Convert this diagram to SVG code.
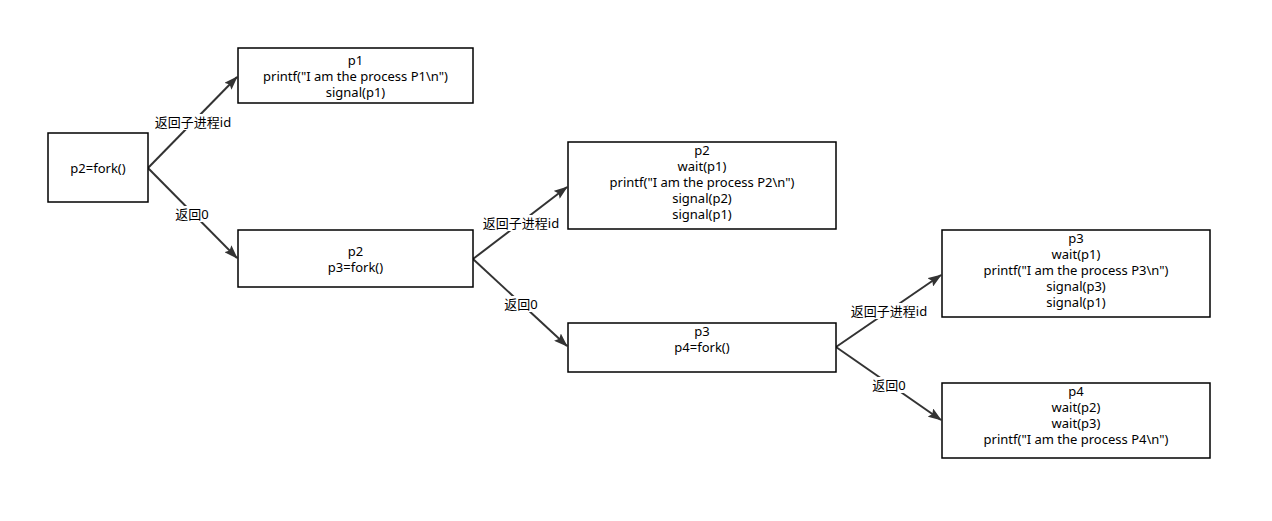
<svg xmlns="http://www.w3.org/2000/svg" width="1272" height="521" viewBox="0 0 1272 521">
<style>
.box{fill:#fff;stroke:#000;stroke-width:1.5}
.t{font-family:"Noto Sans","Noto Sans CJK SC",sans-serif;font-size:13px;fill:#000;text-anchor:middle}
.e{stroke:#333;stroke-width:2;fill:none}
.lb{fill:#fff}
</style>
<defs>
<marker id="ah" viewBox="0 0 14 10" refX="13" refY="5" markerUnits="userSpaceOnUse" markerWidth="14" markerHeight="10" orient="auto">
<path d="M0,0 L14,5 L0,10 L2.5,5 Z" fill="#333"/>
</marker>
</defs>
<rect width="1272" height="521" fill="#fff"/>
<g id="connectors">
<line class="e" x1="148" y1="168" x2="237" y2="77" marker-end="url(#ah)"/>
<line class="e" x1="148" y1="168" x2="237" y2="258" marker-end="url(#ah)"/>
<line class="e" x1="473" y1="259" x2="567" y2="187" marker-end="url(#ah)"/>
<line class="e" x1="473" y1="259" x2="567" y2="346" marker-end="url(#ah)"/>
<line class="e" x1="836" y1="347" x2="941" y2="275" marker-end="url(#ah)"/>
<line class="e" x1="836" y1="347" x2="941" y2="420" marker-end="url(#ah)"/>
<rect class="lb" x="154" y="114" width="78" height="16"/>
<text class="t" x="193" y="127">返回子进程id</text>
<rect class="lb" x="175" y="206" width="34" height="16"/>
<text class="t" x="192" y="219">返回0</text>
<rect class="lb" x="482" y="215" width="78" height="16"/>
<text class="t" x="521" y="228">返回子进程id</text>
<rect class="lb" x="503" y="296" width="34" height="16"/>
<text class="t" x="521" y="309">返回0</text>
<rect class="lb" x="850" y="303" width="78" height="16"/>
<text class="t" x="889" y="316">返回子进程id</text>
<rect class="lb" x="871" y="377" width="34" height="16"/>
<text class="t" x="889" y="390">返回0</text>
</g>
<g id="n1">
<rect class="box" x="48" y="133" width="100" height="69"/>
<text class="t" x="98" y="173">p2=fork()</text>
</g>
<g id="n2">
<rect class="box" x="238" y="48" width="235" height="55"/>
<text class="t" x="355.5" y="65">p1</text>
<text class="t" x="355.5" y="81">printf("I am the process P1\n")</text>
<text class="t" x="355.5" y="97">signal(p1)</text>
</g>
<g id="n3">
<rect class="box" x="238" y="230" width="235" height="57"/>
<text class="t" x="355.5" y="256">p2</text>
<text class="t" x="355.5" y="272">p3=fork()</text>
</g>
<g id="n4">
<rect class="box" x="568" y="142" width="268" height="87"/>
<text class="t" x="702" y="155">p2</text>
<text class="t" x="702" y="171">wait(p1)</text>
<text class="t" x="702" y="187">printf("I am the process P2\n")</text>
<text class="t" x="702" y="203">signal(p2)</text>
<text class="t" x="702" y="219">signal(p1)</text>
</g>
<g id="n5">
<rect class="box" x="568" y="323" width="268" height="49"/>
<text class="t" x="702" y="336">p3</text>
<text class="t" x="702" y="352">p4=fork()</text>
</g>
<g id="n6">
<rect class="box" x="942" y="230" width="268" height="87"/>
<text class="t" x="1076" y="243">p3</text>
<text class="t" x="1076" y="259">wait(p1)</text>
<text class="t" x="1076" y="275">printf("I am the process P3\n")</text>
<text class="t" x="1076" y="291">signal(p3)</text>
<text class="t" x="1076" y="307">signal(p1)</text>
</g>
<g id="n7">
<rect class="box" x="942" y="383" width="268" height="75"/>
<text class="t" x="1076" y="396">p4</text>
<text class="t" x="1076" y="412">wait(p2)</text>
<text class="t" x="1076" y="428">wait(p3)</text>
<text class="t" x="1076" y="444">printf("I am the process P4\n")</text>
</g>
</svg>
